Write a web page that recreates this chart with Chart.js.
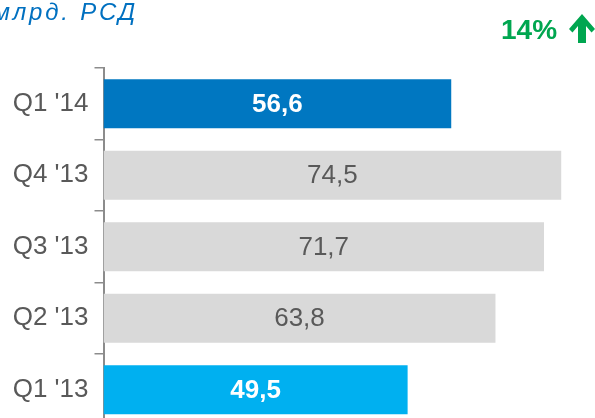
<!DOCTYPE html>
<html>
<head>
<meta charset="utf-8">
<script src="https://cdn.jsdelivr.net/npm/chart.js@4"></script>
<style>
  html, body { margin: 0; padding: 0; background: #fff; overflow: hidden; width: 595px; height: 418px; }
  #wrap { position: relative; width: 595px; height: 418px; overflow: hidden; }
  #chart { position: absolute; left: 0; top: 0; }
  .unit { position: absolute; right: 457px; top: 0; font: italic 24px "Liberation Sans", Arial, sans-serif; line-height: 24px; letter-spacing: 2.8px; color: #0070C0; white-space: nowrap; text-align: right; }
  .growth { position: absolute; left: 501px; top: 16px; font: bold 28px "Liberation Sans", Arial, sans-serif; line-height: 28px; color: #00A650; white-space: nowrap; }
  .arrow { position: absolute; left: 0; top: 0; }
</style>
</head>
<body>
<div id="wrap">
  <canvas id="chart" width="595" height="447" style="width:595px;height:447px"></canvas>
  <div class="unit">млрд. РСД</div>
  <div class="growth">14%</div>
  <svg class="arrow" width="595" height="60">
    <polygon points="582,14 569,29 572.5,32.5 578,26 578,43 586,43 586,26 591.5,32.5 595,29" fill="#00A650"/>
  </svg>
</div>
<script>
// quarters, top to bottom
const quarters = ["Q1 '14", "Q4 '13", "Q3 '13", "Q2 '13", "Q1 '13"];
const revenue = [56.6, 74.5, 71.7, 63.8, 49.5];
const barColors = ['#0077C1', '#D9D9D9', '#D9D9D9', '#D9D9D9', '#00B0F0'];
const labelColors = ['#FFFFFF', '#595959', '#595959', '#595959', '#FFFFFF'];
const labelBold = [true, false, false, false, true];

const fontFamily = '"Liberation Sans", Arial, sans-serif';

// draw value labels in the middle of each bar
const valueLabels = {
    id: 'valueLabels',
    afterDatasetsDraw(chart) {
        const ctx = chart.ctx;
        const meta = chart.getDatasetMeta(0);
        ctx.save();
        ctx.textAlign = 'center';
        ctx.textBaseline = 'middle';
        meta.data.forEach((bar, i) => {
            const v = revenue[i];
            ctx.font = (labelBold[i] ? 'bold ' : '') + '26px ' + fontFamily;
            ctx.fillStyle = labelColors[i];
            ctx.fillText(v.toFixed(1).replace('.', ','), (bar.x + bar.base) / 2, bar.y + 1);
        });
        ctx.restore();
    }
};

new Chart(document.getElementById('chart').getContext('2d'), {
    type: 'bar',
    data: {
        labels: quarters,
        datasets: [{
            data: revenue,
            backgroundColor: barColors,
            borderWidth: 0,
            barPercentage: 0.686,
            categoryPercentage: 1
        }]
    },
    options: {
        indexAxis: 'y',
        responsive: false,
        animation: false,
        layout: { padding: { top: 68, bottom: 8, left: 0, right: 0 } },
        plugins: {
            legend: { display: false },
            tooltip: { enabled: false }
        },
        scales: {
            x: {
                display: false,
                min: 0,
                max: 80
            },
            y: {
                afterFit: s => { s.width = 103.5; },
                grid: {
                    display: true,
                    drawOnChartArea: false,
                    drawTicks: true,
                    tickLength: 9,
                    color: '#8C8C8C',
                    lineWidth: 1.5
                },
                border: { display: true, color: '#8C8C8C', width: 2 },
                ticks: {
                    color: '#595959',
                    padding: 6,
                    font: { family: fontFamily, size: 26 }
                }
            }
        }
    },
    plugins: [valueLabels]
});
</script>
</body>
</html>
